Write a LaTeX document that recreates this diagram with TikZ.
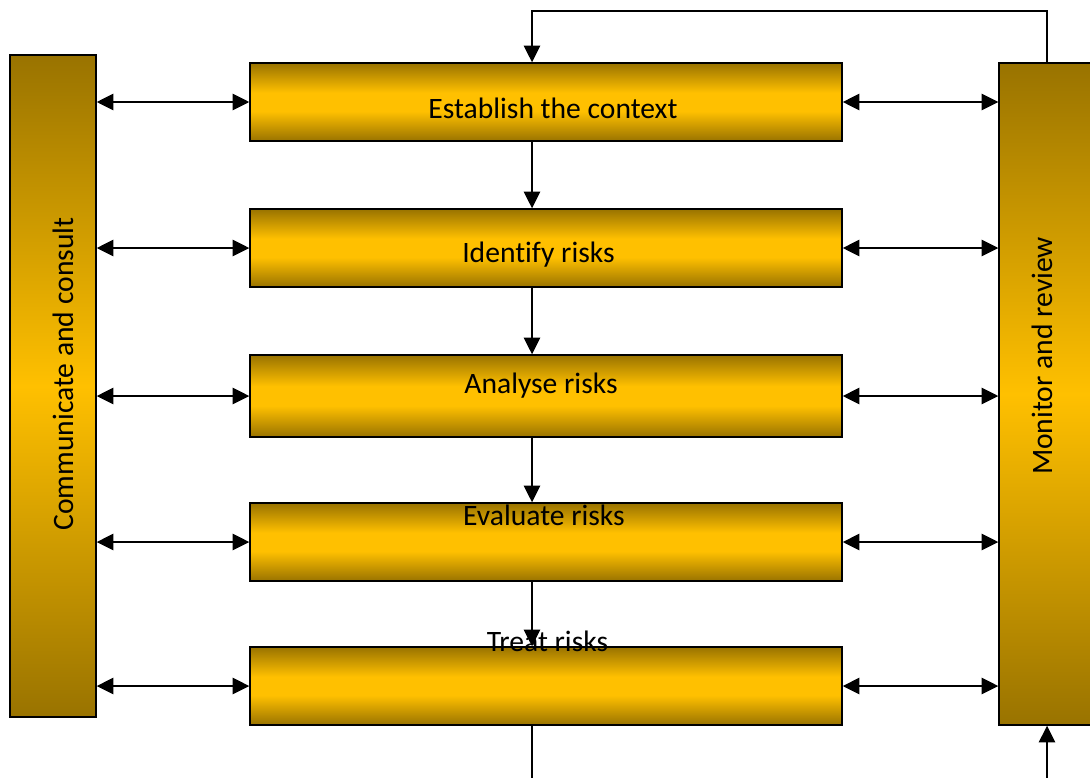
\documentclass[tikz,border=0pt]{standalone}
\usepackage{fontspec}
\setmainfont{Carlito}[RawFeature={-liga;-clig;-dlig}]
\usepackage{xcolor}
\usepackage{tikz}
\usetikzlibrary{arrows.meta,positioning}
\definecolor{goldc}{HTML}{FFC000}
\definecolor{ochre}{HTML}{997300}
\pgfdeclareverticalshading{stepshade}{100bp}{color(0bp)=(ochre); color(25bp)=(ochre); color(44bp)=(goldc); color(56bp)=(goldc); color(75bp)=(ochre); color(100bp)=(ochre)}
\pgfdeclareverticalshading{barshade}{100bp}{color(0bp)=(ochre); color(25bp)=(ochre); color(50bp)=(goldc); color(75bp)=(ochre); color(100bp)=(ochre)}
\tikzset{
  ar/.style={-{Triangle[length=12.5pt,width=12pt]},line width=1.7pt},
  dbl/.style={{Triangle[length=12.5pt,width=12pt]}-{Triangle[length=12.5pt,width=12pt]},line width=1.7pt},
  stepbox/.style={draw,line width=1pt,shading=stepshade,inner sep=0pt,minimum width=444pt,minimum height=58.5pt},
  sidebar/.style={draw,line width=1pt,shading=barshade,inner sep=0pt,minimum height=496.5pt},
  lbl/.style={font=\fontsize{22.2}{26}\selectfont,inner sep=0pt,anchor=base}
}

\begin{document}
\begin{tikzpicture}[x=0.75pt,y=-0.75pt]
\useasboundingbox (0,0) rectangle (1090,778);
\clip (0,0) rectangle (1090,778);
\node[sidebar,minimum width=64.5pt] (cc) at (53,386) {};
\node[sidebar,minimum width=69pt] (mr) at (1045,394) {};
\node[stepbox] (ctx) at (546,102) {};
\node[stepbox] (idf) at (546,248) {};
\node[stepbox,minimum height=61.5pt] (ana) at (546,396) {};
\node[stepbox] (eva) at (546,542) {};
\node[stepbox] (trt) at (546,686) {};
\coordinate (spine) at (532,11);
\coordinate (loop) at (1047,11);
\coordinate (low) at (532,790);
\foreach \b in {ctx,idf,ana,eva,trt}{
  \draw[dbl] (cc.east |- \b.west) -- (\b.west);
  \draw[dbl] (\b.east) -- (mr.west |- \b.east);
}
\foreach \a/\b in {ctx/idf,idf/ana,ana/eva,eva/trt}
  \draw[ar] (spine |- \a.south) -- (spine |- \b.north);
\draw[ar] (loop |- mr.north) -- (loop) -- (spine) -- (spine |- ctx.north);
\draw[line width=1.7pt] (spine |- trt.south) -- (low);
\draw[ar] (loop |- low) -- (loop |- mr.south);
\node[lbl] (tctx) at (553,118) {Establish the context};
\node[lbl] (tidf) at (538.5,262) {Identify risks};
\node[lbl] (tana) at (541,393) {Analyse risks};
\node[lbl] (teva) at (544,525) {Evaluate risks};
\node[lbl] (ttrt) at (547.5,651) {Treat risks};
\node[lbl,rotate=90] (tcc) at (73,374) {Communicate and consult};
\node[lbl,rotate=90] (tmr) at (1052,356) {Monitor and review};
\end{tikzpicture}
\end{document}
